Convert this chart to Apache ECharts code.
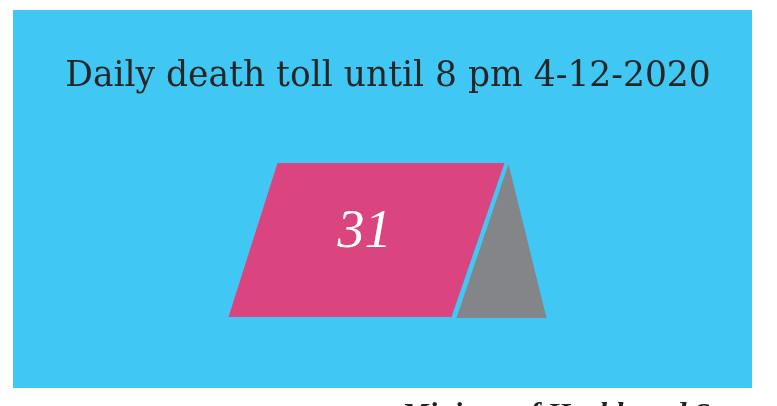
<!DOCTYPE html>
<html>
<head>
<meta charset="utf-8">
<script src="https://cdn.jsdelivr.net/npm/echarts@6/dist/echarts.min.js"></script>
<style>
  html, body { margin: 0; padding: 0; background: #fff; }
  #chart { width: 777px; height: 406px; }
</style>
</head>
<body>
<div id="chart"></div>
<script>
// data
var titleText = 'Daily death toll until 8 pm 4-12-2020'
var sourceText = 'Ministry of Health and Sport'
var categories = ['Deaths']
var values = [31]

var chart = echarts.init(document.getElementById('chart'))

// draw the "tent": pink parallelogram with the count, grey triangle behind it
function renderTent(params, api) {
  var c = api.coord([api.value(0), 0.5])
  var cx = c[0] - 16
  var cy = c[1] + 41
  var top = cy - 77, bottom = cy + 77
  var left = cx - 138
  return {
    type: 'group',
    children: [
      {
        type: 'polygon',
        shape: { points: [[left + 49, top], [left + 276, top], [left + 223, bottom], [left, bottom]] },
        style: { fill: '#DA457F' }
      },
      {
        type: 'polygon',
        shape: { points: [[left + 280, top + 1], [left + 228, bottom + 1], [left + 318, bottom + 1]] },
        style: { fill: '#838589' }
      },
      {
        type: 'text',
        x: cx - 2,
        y: cy - 7,
        style: {
          text: String(api.value(1)),
          fill: '#fff',
          font: 'italic 54px "Liberation Serif"',
          align: 'center',
          verticalAlign: 'middle'
        }
      }
    ]
  }
}

var option = {
  backgroundColor: '#fff',
  animation: false,
  title: [
    {
      text: titleText,
      left: 383,
      top: 55,
      textAlign: 'center',
      textStyle: { fontFamily: 'DejaVu Serif', fontWeight: 'normal', fontSize: 34.5, color: '#262626' }
    },
    {
      text: sourceText,
      left: 397,
      top: 395,
      textStyle: { fontFamily: 'Liberation Serif', fontStyle: 'italic', fontWeight: 'bold', fontSize: 30, color: '#222' }
    }
  ],
  grid: {
    show: true,
    left: 13, top: 10, width: 739, height: 378,
    backgroundColor: '#41C7F4',
    borderWidth: 0
  },
  xAxis: { type: 'category', data: categories, show: false },
  yAxis: { type: 'value', min: 0, max: 1, show: false },
  series: [{
    type: 'custom',
    renderItem: renderTent,
    data: values.map(function (v, i) { return [i, v] }),
    encode: { x: 0 }
  }]
}

chart.setOption(option)
</script>
</body>
</html>
